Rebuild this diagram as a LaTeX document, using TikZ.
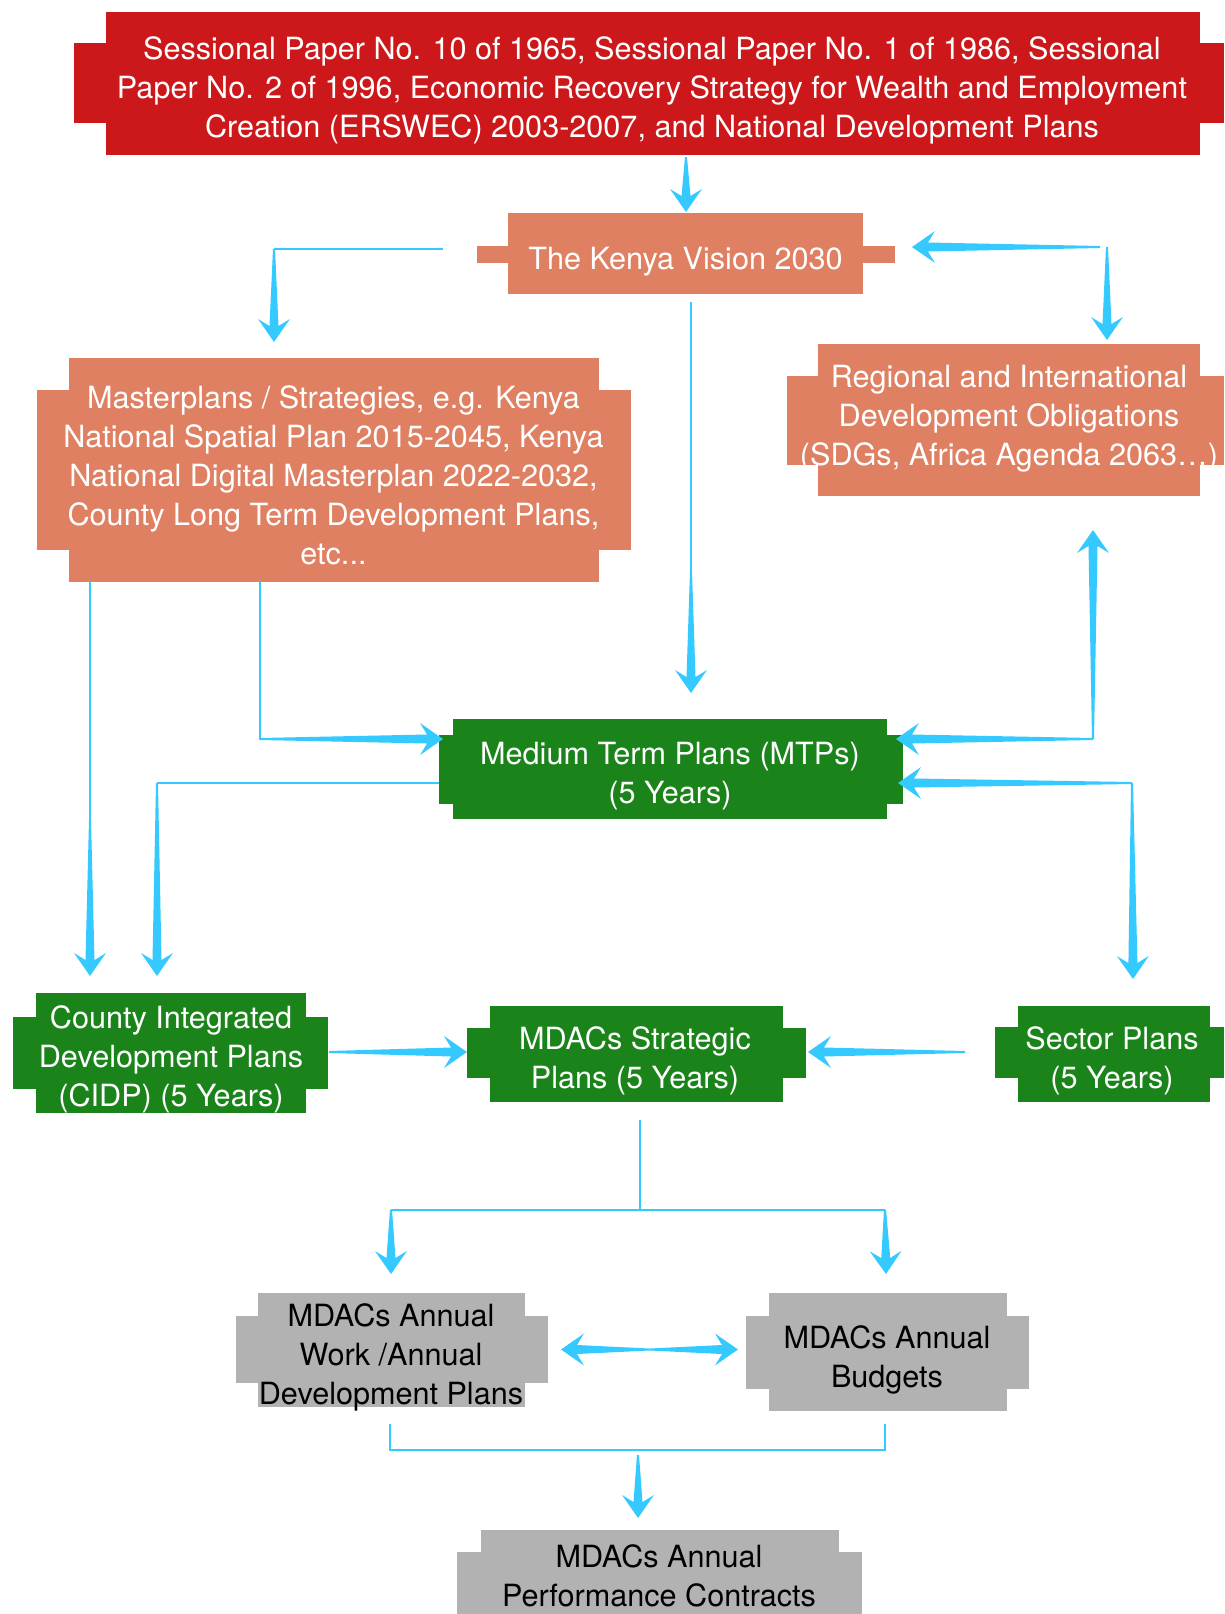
\documentclass[tikz,border=0pt]{standalone}
\usepackage{fontspec}
\setmainfont{TeX Gyre Heros}
\usetikzlibrary{calc,fit}
\definecolor{cred}{RGB}{204,24,26}
\definecolor{csalmon}{RGB}{224,128,98}
\definecolor{cgreen}{RGB}{26,132,26}
\definecolor{cgray}{RGB}{178,178,178}
\definecolor{ablue}{RGB}{52,202,255}
\tikzset{
  txt/.style={align=center, font=\fontsize{30.6}{39}\selectfont, inner sep=0pt},
  wtxt/.style={txt, text=white},
  btxt/.style={txt, text=black},
  conn/.style={draw=ablue, line width=2pt, line cap=butt, line join=miter},
}
% cross-shaped box: name, colour, main corner 1, main corner 2, wide corner 1, wide corner 2
\newcommand\xbox[6]{%
  \fill[#2] #5 rectangle #6;
  \fill[#2] #3 rectangle #4;
  \node[fit={#3 #4}, inner sep=0pt, outer sep=0pt] (#1) {};
}
% tapered arrow from coordinate #1 to coordinate #2
\newcommand\tarr[2]{%
  \path ($(#2)!16pt!(#1)$) coordinate (tJ) ($(#2)!23pt!(#1)$) coordinate (tD);
  \fill[ablue] ($(#1)!1pt!90:(#2)$) -- ($(tJ)!4.5pt!-90:(#1)$) -- ($(tD)!16pt!-90:(#1)$)
    -- (#2) -- ($(tD)!16pt!90:(#1)$) -- ($(tJ)!4.5pt!90:(#1)$) -- ($(#1)!1pt!-90:(#2)$) -- cycle;
}
\begin{document}
\begin{tikzpicture}[x=1pt,y=-1pt]
\useasboundingbox (0,0) rectangle (1224,1614);

% boxes
\xbox{top}{cred}{(106,12)}{(1200,155)}{(74,43)}{(1224,123)}
\xbox{vision}{csalmon}{(508,213)}{(863,294)}{(477,246)}{(895,263)}
\xbox{master}{csalmon}{(69,358)}{(599,582)}{(37,390)}{(631,550)}
\xbox{regional}{csalmon}{(818,344)}{(1200,496)}{(787,376)}{(1224,465)}
\xbox{mtp}{cgreen}{(453,719)}{(887,819)}{(439,735)}{(903,804)}
\xbox{cidp}{cgreen}{(36,993)}{(306,1113)}{(13,1017)}{(328,1089)}
\xbox{strat}{cgreen}{(490,1006)}{(783,1102)}{(467,1028)}{(806,1078)}
\xbox{sector}{cgreen}{(1018,1006)}{(1210,1102)}{(995,1027)}{(1224,1078)}
\xbox{awp}{cgray}{(258,1293)}{(525,1407)}{(236,1316)}{(548,1383)}
\xbox{budget}{cgray}{(769,1293)}{(1007,1411)}{(746,1316)}{(1029,1389)}
\xbox{perf}{cgray}{(481,1530)}{(839,1614)}{(457,1552)}{(862,1614)}

% texts
\node[wtxt] (topT) at (652,90.5) {Sessional Paper No. 10 of 1965, Sessional Paper No. 1 of 1986, Sessional\\Paper No. 2 of 1996, Economic Recovery Strategy for Wealth and Employment\\Creation (ERSWEC) 2003-2007, and National Development Plans};
\node[wtxt] (visionT) at (685.5,261.5) {The Kenya Vision 2030};
\node[wtxt] (masterT) at (333.5,475) {Masterplans / Strategies, e.g. Kenya\\National Spatial Plan 2015-2045, Kenya\\National Digital Masterplan 2022-2032,\\County Long Term Development Plans,\\etc...};
\node[wtxt] (regionalT) at (1009,419) {Regional and International\\Development Obligations\\(SDGs, Africa Agenda 2063…)};
\node[wtxt] (mtpT) at (670,776) {Medium Term Plans (MTPs)\\(5 Years)};
\node[wtxt] (cidpT) at (171,1059.5) {County Integrated\\Development Plans\\(CIDP) (5 Years)};
\node[wtxt] (stratT) at (635,1061) {MDACs Strategic\\Plans (5 Years)};
\node[wtxt] (sectorT) at (1112,1061) {Sector Plans\\(5 Years)};
\node[btxt] (awpT) at (391,1357.5) {MDACs Annual\\Work /Annual\\Development Plans};
\node[btxt] (budgetT) at (887,1359.5) {MDACs Annual\\Budgets};
\node[btxt] (perfT) at (659,1575.5) {MDACs Annual\\Performance Contracts};

% connector coordinates
\coordinate (a1s) at (686,157);   \coordinate (a1e) at (686,212);
\coordinate (a2s) at (443,249);   \coordinate (a2c) at (274,249);   \coordinate (a2e) at (274,342);
\coordinate (a3h) at (1100,247);  \coordinate (a3he) at (912,247);
\coordinate (a3v) at (1107,247);  \coordinate (a3ve) at (1107,340);
\coordinate (a4s) at (691,302);   \coordinate (a4m) at (691,571);   \coordinate (a4e) at (691,693);
\coordinate (a5s) at (260,582);   \coordinate (a5c) at (260,739);   \coordinate (a5e) at (443,739);
\coordinate (a6c) at (1093,739);  \coordinate (a6u) at (1093,530);  \coordinate (a6l) at (896,739);
\coordinate (a7c) at (1132,783);  \coordinate (a7l) at (898,783);   \coordinate (a7d) at (1133,979);
\coordinate (a8s) at (439,783);   \coordinate (a8c) at (157,783);   \coordinate (a8e) at (157,976);
\coordinate (a9s) at (90,582);    \coordinate (a9m) at (90,820);    \coordinate (a9e) at (90,976);
\coordinate (a10s) at (329,1052); \coordinate (a10e) at (467,1052);
\coordinate (a11s) at (965,1052); \coordinate (a11e) at (808,1052);
\coordinate (a12s) at (640,1120); \coordinate (a12c) at (640,1209.5);
\coordinate (a12l) at (391,1209.5); \coordinate (a12r) at (885,1209.5);
\coordinate (a12le) at (391,1274); \coordinate (a12re) at (886,1274);
\coordinate (a13c) at (649.5,1349.5); \coordinate (a13l) at (561,1349.5); \coordinate (a13r) at (738,1349.5);
\coordinate (a14l) at (390,1424); \coordinate (a14r) at (885,1424);
\coordinate (a14bl) at (390,1450); \coordinate (a14br) at (885,1450);
\coordinate (a14s) at (638,1455); \coordinate (a14e) at (638,1518);

% thin connector lines
\draw[conn] (a2s) -- (a2c);
\draw[conn] (a4s) -- (a4m);
\draw[conn] (a5s) -- (a5c) -- ++(40,0);
\draw[conn] (a8s) -- (a8c);
\draw[conn] (a9s) -- (a9m);
\draw[conn] (a12s) -- (a12c);
\draw[conn] (a12l) -- (a12r);
\draw[conn] (a14l) -- (a14bl) -- (a14br) -- (a14r);

% tapered arrows
\tarr{a1s}{a1e}
\tarr{a2c}{a2e}
\tarr{a3h}{a3he}
\tarr{a3v}{a3ve}
\tarr{a4m}{a4e}
\tarr{a5c}{a5e}
\tarr{a6c}{a6u}
\tarr{a6c}{a6l}
\tarr{a7c}{a7l}
\tarr{a7c}{a7d}
\tarr{a8c}{a8e}
\tarr{a9m}{a9e}
\tarr{a10s}{a10e}
\tarr{a11s}{a11e}
\tarr{a12l}{a12le}
\tarr{a12r}{a12re}
\tarr{a13c}{a13l}
\tarr{a13c}{a13r}
\tarr{a14s}{a14e}
\end{tikzpicture}
\end{document}
